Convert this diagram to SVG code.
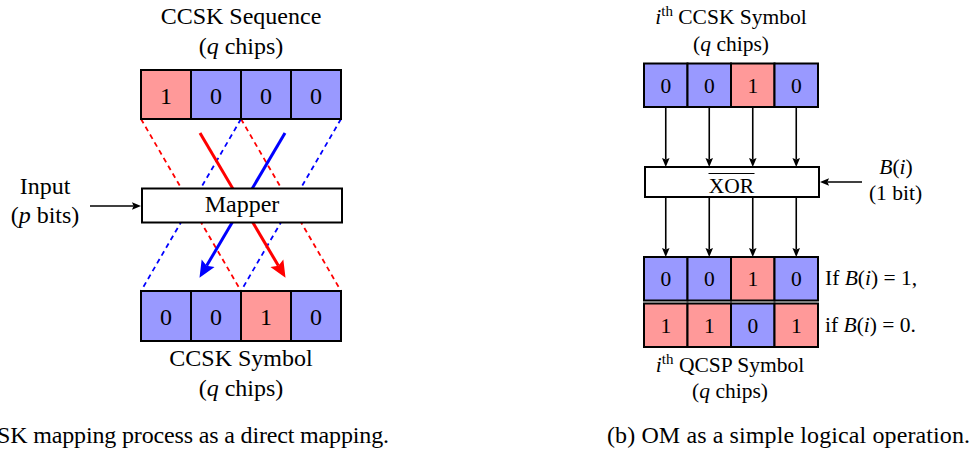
<svg xmlns="http://www.w3.org/2000/svg" width="975" height="455" viewBox="0 0 975 455" font-family="Liberation Serif">
  <style>
    text { fill: #000; font-family: "Liberation Serif" !important; }
    .l { font-size: 24px; }
    .r { font-size: 21.5px; }
    .mid { text-anchor: middle; }
    .it { font-style: italic; }
    .one { fill: #ff9999; stroke: #000; stroke-width: 2; }
    .zero { fill: #9999ff; stroke: #000; stroke-width: 2; }
    .box { fill: #fff; stroke: #000; stroke-width: 2; }
    .dr { stroke: #ff0000; stroke-width: 1.8; stroke-dasharray: 5 4; fill: none; }
    .db { stroke: #0000ff; stroke-width: 1.8; stroke-dasharray: 5 4; fill: none; }
    .wire { stroke: #000; stroke-width: 1.6; fill: none; }
  </style>
  <defs>
    <marker id="headRed" markerUnits="userSpaceOnUse" viewBox="0 -8 17 16" markerWidth="17" markerHeight="16" refX="3" refY="0" orient="auto">
      <path d="M17,0 L0,-7.5 L3,0 L0,7.5 Z" fill="#ff0000"/>
    </marker>
    <marker id="headBlue" markerUnits="userSpaceOnUse" viewBox="0 -8 17 16" markerWidth="17" markerHeight="16" refX="3" refY="0" orient="auto">
      <path d="M17,0 L0,-7.5 L3,0 L0,7.5 Z" fill="#0000ff"/>
    </marker>
    <marker id="tip" markerUnits="userSpaceOnUse" viewBox="0 -4 9 8" markerWidth="9" markerHeight="8" refX="1.5" refY="0" orient="auto">
      <path d="M9,0 L0,-3.8 L1.5,0 L0,3.8 Z" fill="#000"/>
    </marker>
  </defs>

  <!-- (a) direct mapping -->
  <g id="connectors-a">
    <line class="dr" x1="141" y1="119" x2="241" y2="291"/>
    <line class="dr" x1="241" y1="119" x2="341" y2="291"/>
    <line class="db" x1="241" y1="119" x2="141" y2="291"/>
    <line class="db" x1="341" y1="119" x2="241" y2="291"/>
    <line x1="200" y1="133" x2="278.4" y2="265.8" stroke="#ff0000" stroke-width="3" marker-end="url(#headRed)"/>
    <line x1="285" y1="133" x2="206.6" y2="265.8" stroke="#0000ff" stroke-width="3" marker-end="url(#headBlue)"/>
    <line class="wire" x1="90" y1="206" x2="133.5" y2="206" marker-end="url(#tip)"/>
  </g>

  <g id="seq-label">
    <text font-family="Liberation Serif" class="l mid" x="241" y="24">CCSK Sequence</text>
    <text font-family="Liberation Serif" class="l mid" x="241" y="54">(<tspan class="it">q</tspan> chips)</text>
  </g>

  <g id="ccsk-sequence">
    <rect class="one" x="141" y="70" width="50" height="49"/>
    <rect class="zero" x="191" y="70" width="50" height="49"/>
    <rect class="zero" x="241" y="70" width="50" height="49"/>
    <rect class="zero" x="291" y="70" width="50" height="49"/>
    <text font-family="Liberation Serif" class="l mid" x="166" y="104">1</text>
    <text font-family="Liberation Serif" class="l mid" x="216" y="104">0</text>
    <text font-family="Liberation Serif" class="l mid" x="266" y="104">0</text>
    <text font-family="Liberation Serif" class="l mid" x="316" y="104">0</text>
  </g>

  <g id="input">
    <text font-family="Liberation Serif" class="l mid" x="45" y="194">Input</text>
    <text font-family="Liberation Serif" class="l mid" x="45" y="223">(<tspan class="it">p</tspan> bits)</text>
  </g>

  <g id="mapper">
    <rect class="box" x="142" y="188.5" width="200" height="34"/>
    <text font-family="Liberation Serif" class="l mid" x="242" y="212">Mapper</text>
  </g>

  <g id="ccsk-symbol">
    <rect class="zero" x="141" y="291" width="50" height="50"/>
    <rect class="zero" x="191" y="291" width="50" height="50"/>
    <rect class="one" x="241" y="291" width="50" height="50"/>
    <rect class="zero" x="291" y="291" width="50" height="50"/>
    <text font-family="Liberation Serif" class="l mid" x="166" y="325">0</text>
    <text font-family="Liberation Serif" class="l mid" x="216" y="325">0</text>
    <text font-family="Liberation Serif" class="l mid" x="266" y="325">1</text>
    <text font-family="Liberation Serif" class="l mid" x="316" y="325">0</text>
    <text font-family="Liberation Serif" class="l mid" x="241" y="366">CCSK Symbol</text>
    <text font-family="Liberation Serif" class="l mid" x="241" y="396">(<tspan class="it">q</tspan> chips)</text>
  </g>

  <text font-family="Liberation Serif" class="l" x="-3" y="443" textLength="392" lengthAdjust="spacing">SK mapping process as a direct mapping.</text>

  <!-- (b) logical operation -->
  <g id="connectors-b">
    <line class="wire" x1="665.75" y1="107" x2="665.75" y2="159.5" marker-end="url(#tip)"/>
    <line class="wire" x1="709.25" y1="107" x2="709.25" y2="159.5" marker-end="url(#tip)"/>
    <line class="wire" x1="752.75" y1="107" x2="752.75" y2="159.5" marker-end="url(#tip)"/>
    <line class="wire" x1="796.25" y1="107" x2="796.25" y2="159.5" marker-end="url(#tip)"/>
    <line class="wire" x1="665.75" y1="197" x2="665.75" y2="249.5" marker-end="url(#tip)"/>
    <line class="wire" x1="709.25" y1="197" x2="709.25" y2="249.5" marker-end="url(#tip)"/>
    <line class="wire" x1="752.75" y1="197" x2="752.75" y2="249.5" marker-end="url(#tip)"/>
    <line class="wire" x1="796.25" y1="197" x2="796.25" y2="249.5" marker-end="url(#tip)"/>
    <line class="wire" x1="862" y1="182" x2="827.5" y2="182" marker-end="url(#tip)"/>
  </g>

  <g id="ith-ccsk-symbol">
    <text font-family="Liberation Serif" class="r mid" x="731" y="24"><tspan class="it">i</tspan><tspan font-size="15" dy="-8">th</tspan><tspan dy="8"> CCSK Symbol</tspan></text>
    <text font-family="Liberation Serif" class="r mid" x="731" y="51">(<tspan class="it">q</tspan> chips)</text>
    <rect class="zero" x="644" y="63.5" width="43.5" height="43.5"/>
    <rect class="zero" x="687.5" y="63.5" width="43.5" height="43.5"/>
    <rect class="one" x="731" y="63.5" width="43.5" height="43.5"/>
    <rect class="zero" x="774.5" y="63.5" width="43.5" height="43.5"/>
    <text font-family="Liberation Serif" class="r mid" x="665.75" y="93">0</text>
    <text font-family="Liberation Serif" class="r mid" x="709.25" y="93">0</text>
    <text font-family="Liberation Serif" class="r mid" x="752.75" y="93">1</text>
    <text font-family="Liberation Serif" class="r mid" x="796.25" y="93">0</text>
  </g>

  <g id="xnor">
    <rect class="box" x="645" y="167" width="174" height="30"/>
    <line x1="708.5" y1="173.5" x2="754.5" y2="173.5" stroke="#000" stroke-width="1"/>
    <text font-family="Liberation Serif" class="r mid" x="731.5" y="193">XOR</text>
  </g>

  <g id="bit-input">
    <text font-family="Liberation Serif" class="r mid" x="896" y="174"><tspan class="it">B</tspan>(<tspan class="it">i</tspan>)</text>
    <text font-family="Liberation Serif" class="r mid" x="895.5" y="200">(1 bit)</text>
  </g>

  <g id="qcsp-symbol">
    <rect class="zero" x="644" y="257" width="43.5" height="43.5"/>
    <rect class="zero" x="687.5" y="257" width="43.5" height="43.5"/>
    <rect class="one" x="731" y="257" width="43.5" height="43.5"/>
    <rect class="zero" x="774.5" y="257" width="43.5" height="43.5"/>
    <text font-family="Liberation Serif" class="r mid" x="665.75" y="286">0</text>
    <text font-family="Liberation Serif" class="r mid" x="709.25" y="286">0</text>
    <text font-family="Liberation Serif" class="r mid" x="752.75" y="286">1</text>
    <text font-family="Liberation Serif" class="r mid" x="796.25" y="286">0</text>
    <rect class="one" x="644" y="303.5" width="43.5" height="43.5"/>
    <rect class="one" x="687.5" y="303.5" width="43.5" height="43.5"/>
    <rect class="zero" x="731" y="303.5" width="43.5" height="43.5"/>
    <rect class="one" x="774.5" y="303.5" width="43.5" height="43.5"/>
    <text font-family="Liberation Serif" class="r mid" x="665.75" y="332.5">1</text>
    <text font-family="Liberation Serif" class="r mid" x="709.25" y="332.5">1</text>
    <text font-family="Liberation Serif" class="r mid" x="752.75" y="332.5">0</text>
    <text font-family="Liberation Serif" class="r mid" x="796.25" y="332.5">1</text>
    <text font-family="Liberation Serif" class="r" x="825" y="285">If <tspan class="it">B</tspan>(<tspan class="it">i</tspan>) = 1,</text>
    <text font-family="Liberation Serif" class="r" x="825" y="332">if <tspan class="it">B</tspan>(<tspan class="it">i</tspan>) = 0.</text>
    <text font-family="Liberation Serif" class="r mid" x="730" y="372"><tspan class="it">i</tspan><tspan font-size="15" dy="-8">th</tspan><tspan dy="8"> QCSP Symbol</tspan></text>
    <text font-family="Liberation Serif" class="r mid" x="730" y="398">(<tspan class="it">q</tspan> chips)</text>
  </g>

  <text font-family="Liberation Serif" class="l" x="607" y="443" textLength="363" lengthAdjust="spacing">(b) OM as a simple logical operation.</text>
</svg>
